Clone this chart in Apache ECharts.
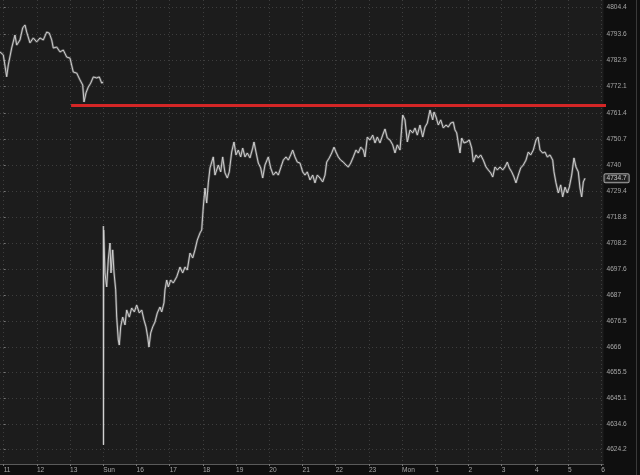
<!DOCTYPE html>
<html>
<head>
<meta charset="utf-8">
<script src="https://cdn.jsdelivr.net/npm/echarts@6/dist/echarts.min.js"></script>
<style>html,body{margin:0;padding:0;background:#0f0f0f;}#chart{width:640px;height:475px;}</style>
</head>
<body>
<div id="chart"></div>
<script>
// x unit: hour slots, 0 = "11" tick, each tick one hour (weekend gap removed)
const xTickLabels = ['11','12','13','Sun','16','17','18','19','20','21','22','23','Mon','1','2','3','4','5','6'];
const yTickLabels = ['4624.2','4634.6','4645.1','4655.5','4666','4676.5','4687','4697.6','4708.2','4718.8','4729.4','4740','4750.7','4761.4','4772.1','4782.9','4793.6','4804.4'];

// Friday session [hour slot, price]
const fridayPrices = [
[-0.111,4786.2],[-0.012,4785.0],[0.090,4776.1],[0.139,4780.9],[0.241,4787.8],[0.340,4793.1],[0.392,4789.0],
[0.491,4791.1],[0.572,4796.0],[0.642,4797.2],[0.693,4794.3],[0.792,4789.9],[0.891,4791.9],[0.994,4790.3],
[1.093,4791.9],[1.193,4791.1],[1.295,4794.3],[1.373,4793.9],[1.446,4791.1],[1.494,4787.8],[1.596,4788.2],
[1.696,4786.2],[1.795,4787.0],[1.898,4784.1],[1.997,4783.7],[2.096,4778.0],[2.199,4777.6],[2.298,4774.8],
[2.380,4772.7],[2.419,4765.8],[2.479,4769.5],[2.548,4771.9],[2.621,4773.5],[2.699,4776.0],[2.801,4775.6],
[2.880,4776.0],[2.952,4773.5],[3.000,4773.9]
];

// Sunday / Monday session [hour slot, price]
const sundayPrices = [
[3.003,4715.2],[3.006,4626.0],[3.012,4713.6],[3.051,4696.1],[3.102,4690.4],[3.150,4701.4],[3.202,4708.3],
[3.232,4696.1],[3.283,4705.5],[3.322,4696.5],[3.373,4689.2],[3.404,4678.1],[3.452,4668.8],[3.482,4666.7],
[3.524,4674.1],[3.584,4678.1],[3.654,4674.9],[3.705,4681.0],[3.783,4678.1],[3.855,4681.8],[3.934,4680.2],
[4.006,4683.0],[4.084,4679.8],[4.157,4681.0],[4.226,4676.9],[4.286,4674.1],[4.337,4670.0],[4.376,4665.9],
[4.428,4671.6],[4.488,4674.1],[4.557,4676.1],[4.627,4679.8],[4.708,4682.2],[4.759,4680.2],[4.828,4683.9],
[4.858,4689.2],[4.910,4693.2],[4.958,4690.4],[5.030,4693.2],[5.108,4692.0],[5.211,4694.5],[5.310,4698.5],
[5.392,4696.1],[5.461,4698.5],[5.530,4697.3],[5.611,4704.2],[5.693,4702.2],[5.762,4705.5],[5.831,4709.5],
[5.913,4712.4],[5.964,4713.6],[6.012,4723.0],[6.063,4730.7],[6.114,4724.6],[6.163,4732.8],[6.214,4738.9],
[6.313,4743.4],[6.364,4736.0],[6.464,4740.1],[6.536,4737.3],[6.596,4743.4],[6.665,4736.9],[6.735,4734.8],
[6.795,4737.3],[6.867,4745.4],[6.937,4749.5],[6.997,4744.2],[7.066,4746.2],[7.138,4743.4],[7.199,4747.0],
[7.268,4743.4],[7.337,4745.0],[7.418,4743.0],[7.500,4747.0],[7.539,4749.5],[7.599,4745.4],[7.669,4740.9],
[7.741,4738.9],[7.801,4734.8],[7.870,4740.1],[7.970,4743.4],[8.042,4738.9],[8.121,4736.0],[8.202,4737.3],
[8.271,4736.0],[8.343,4738.9],[8.422,4742.1],[8.503,4743.4],[8.573,4742.1],[8.644,4744.2],[8.705,4746.2],
[8.774,4743.4],[8.843,4741.3],[8.925,4740.9],[9.006,4737.3],[9.075,4736.0],[9.144,4737.3],[9.226,4734.0],
[9.307,4736.0],[9.376,4732.8],[9.446,4736.0],[9.527,4734.8],[9.608,4733.2],[9.678,4736.0],[9.729,4741.3],
[9.807,4743.0],[9.880,4745.0],[9.949,4747.4],[10.009,4745.4],[10.078,4743.4],[10.150,4742.1],[10.229,4741.3],
[10.310,4740.1],[10.380,4739.3],[10.452,4740.9],[10.530,4743.4],[10.611,4746.2],[10.681,4745.0],[10.753,4747.4],
[10.832,4746.2],[10.882,4743.4],[10.952,4751.5],[11.033,4750.3],[11.115,4752.3],[11.184,4749.1],[11.253,4751.5],
[11.334,4749.1],[11.415,4752.3],[11.485,4754.8],[11.554,4751.1],[11.635,4750.3],[11.717,4748.3],[11.786,4745.0],
[11.855,4748.3],[11.937,4746.2],[12.018,4760.5],[12.087,4758.5],[12.157,4749.5],[12.238,4754.4],[12.320,4753.2],
[12.389,4755.2],[12.458,4752.3],[12.539,4756.4],[12.621,4751.5],[12.690,4755.6],[12.759,4757.2],[12.840,4762.5],
[12.922,4758.5],[12.961,4761.7],[13.021,4759.7],[13.091,4756.4],[13.163,4758.5],[13.241,4755.2],[13.322,4756.4],
[13.392,4755.6],[13.464,4757.2],[13.542,4757.6],[13.593,4754.4],[13.645,4753.2],[13.693,4749.1],[13.744,4745.0],
[13.795,4751.1],[13.864,4749.1],[13.946,4749.5],[14.024,4750.3],[14.096,4747.0],[14.145,4741.3],[14.226,4744.2],
[14.295,4743.0],[14.367,4744.2],[14.446,4742.1],[14.527,4739.3],[14.596,4738.1],[14.669,4736.9],[14.729,4735.2],
[14.798,4739.3],[14.868,4738.1],[14.949,4739.3],[15.030,4738.1],[15.099,4739.3],[15.168,4741.3],[15.229,4738.9],
[15.301,4737.3],[15.370,4735.2],[15.430,4732.8],[15.500,4736.0],[15.572,4738.9],[15.650,4740.1],[15.731,4742.1],
[15.801,4745.4],[15.873,4744.2],[15.952,4746.2],[16.033,4750.3],[16.093,4751.5],[16.154,4746.2],[16.235,4745.0],
[16.304,4745.4],[16.373,4743.4],[16.455,4744.2],[16.536,4742.1],[16.575,4737.3],[16.635,4732.8],[16.705,4728.7],
[16.777,4732.0],[16.837,4727.1],[16.907,4731.1],[16.976,4728.7],[17.036,4731.1],[17.108,4736.0],[17.177,4743.0],
[17.237,4739.3],[17.307,4737.3],[17.358,4730.7],[17.409,4727.1],[17.458,4733.2],[17.509,4734.7]
];

const levelPrice = 4764.4;           // red horizontal level
const levelStartSlot = 2.03;
const levelEndSlot = 18.32;
const lastPrice = 4734.7;
const xMin = -0.111, xMax = 18.066;

const xTicks = xTickLabels.map((_, i) => i);
const yTicks = yTickLabels.map(Number);

const chart = echarts.init(document.getElementById('chart'), null, {renderer: 'canvas'});
const labelFont = {fontFamily: 'Liberation Sans', fontSize: 6.6, color: '#a6a6a6'};
const gridDots = {show: true, lineStyle: {color: '#3e3e3e', width: 1, type: [1, 3]}};

function priceSeries(data, width, opacity) {
  return {
    type: 'line', data: data, showSymbol: false, symbol: 'none', animation: false, silent: true,
    lineStyle: {color: '#d2d2d2', width: width, opacity: opacity}
  };
}

chart.setOption({
  backgroundColor: '#0f0f0f',
  animation: false,
  grid: {left: 0, right: 36.5, top: 0, bottom: 11, show: true, backgroundColor: '#1c1c1c', borderWidth: 0},
  xAxis: {
    type: 'value', min: xMin, max: xMax, interval: 1,
    axisLine: {show: true, lineStyle: {color: '#5a5a5a', width: 1}},
    axisTick: {show: true, length: 2, customValues: xTicks, lineStyle: {color: '#777'}},
    axisLabel: Object.assign({customValues: xTicks, align: 'left', margin: 3, formatter: v => xTickLabels[Math.round(v)]}, labelFont),
    splitLine: gridDots
  },
  yAxis: {
    type: 'value', position: 'right', min: 4618.2, max: 4807.38, scale: true,
    axisLine: {show: false},
    axisTick: {show: true, length: 2, customValues: yTicks, lineStyle: {color: '#777'}},
    axisLabel: Object.assign({customValues: yTicks, align: 'left', margin: 3,
      formatter: v => { const i = yTicks.indexOf(v); return i >= 0 ? yTickLabels[i] : ''; }}, labelFont),
    splitLine: gridDots
  },
  graphic: [{type: 'rect', shape: {x: 636, y: 0, width: 1, height: 475}, style: {fill: '#3a3a3a'}, silent: true}],
  series: [
    priceSeries(fridayPrices, 2.4, 0.3),
    priceSeries(sundayPrices, 2.4, 0.3),
    priceSeries(fridayPrices, 1, 0.95),
    priceSeries(sundayPrices, 1, 0.95),
    {
      type: 'line', clip: false, showSymbol: false, symbol: 'none', silent: true, animation: false,
      data: [[levelStartSlot, levelPrice], [levelEndSlot, levelPrice]],
      lineStyle: {color: '#d42626', width: 3},
      z: 5
    },
    {
      type: 'scatter', clip: false, silent: true, animation: false, z: 6,
      symbol: 'rect', symbolSize: 0.01,
      data: [[xMax, lastPrice]],
      label: {show: true, position: 'right', distance: 1, formatter: String(lastPrice),
        fontFamily: 'Liberation Sans', fontSize: 6.6, color: '#ececec',
        backgroundColor: '#222', borderColor: '#c8c8c8', borderWidth: 1, borderRadius: 1, padding: [1, 2, 0, 2]}
    }
  ]
});
</script>
</body>
</html>
